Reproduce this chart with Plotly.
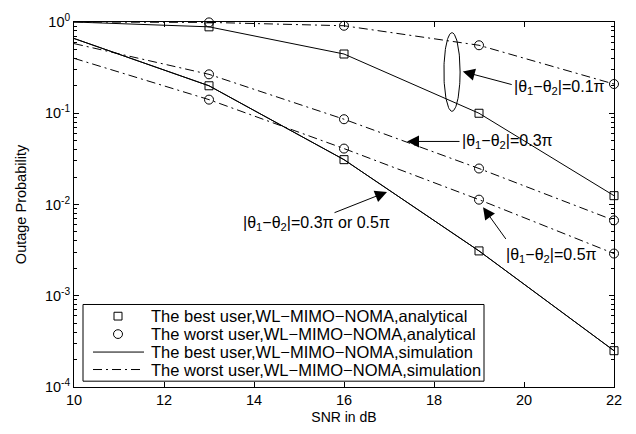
import numpy as np
import plotly.graph_objects as go

# SNR grid (dB) and outage probabilities
snr = [10, 13, 16, 19, 22]
best_01 = [1.0, 0.885, 0.446, 0.100, 0.0125]
best_0305 = [0.66, 0.200, 0.031, 0.0031, 0.00025]
worst_01 = [1.0, 0.99, 0.91, 0.556, 0.209]
worst_03 = [0.58, 0.267, 0.086, 0.0248, 0.0067]
worst_05 = [0.40, 0.141, 0.041, 0.0113, 0.0029]

legend_names = [
    "The best user,WL\u2212MIMO\u2212NOMA,analytical",
    "The worst user,WL\u2212MIMO\u2212NOMA,analytical",
    "The best user,WL\u2212MIMO\u2212NOMA,simulation",
    "The worst user,WL\u2212MIMO\u2212NOMA,simulation",
]

x_ticks = [10, 12, 14, 16, 18, 20, 22]
y_exps = [0, -1, -2, -3, -4]

FONT = "Liberation Sans, Arial, Helvetica, sans-serif"
DASHDOT = "9px,4px,2px,4px"

W, H = 636, 434
ML, MR, MT, MB = 74, 22, 12, 46
PW, PH = W - ML - MR, H - MT - MB


def px(xpix):
    return (xpix - ML) / PW


def py(ypix):
    return (H - MB - ypix) / PH


fig = go.Figure()

# simulation curves (lines)
for vals in [best_01, best_0305, best_0305]:
    fig.add_trace(go.Scatter(
        x=snr, y=vals, mode="lines", line=dict(color="black", width=1),
        name=legend_names[2], showlegend=False))
for vals in [worst_01, worst_03, worst_05]:
    fig.add_trace(go.Scatter(
        x=snr, y=vals, mode="lines", line=dict(color="black", width=1, dash=DASHDOT),
        name=legend_names[3], showlegend=False))

# analytical points (markers)
for vals in [best_01, best_0305]:
    fig.add_trace(go.Scatter(
        x=snr[1:], y=vals[1:], mode="markers", cliponaxis=False,
        marker=dict(symbol="square-open", size=8, color="black", line=dict(width=1)),
        name=legend_names[0], showlegend=False))
for vals in [worst_01, worst_03, worst_05]:
    fig.add_trace(go.Scatter(
        x=snr[1:], y=vals[1:], mode="markers", cliponaxis=False,
        marker=dict(symbol="circle-open", size=9, color="black", line=dict(width=1)),
        name=legend_names[1], showlegend=False))

# ellipse grouping the 0.1*pi curves
cx, cy, rx, ry = 18.4, -0.548, 0.18, 0.431
t = np.linspace(0, 2 * np.pi, 120)
fig.add_trace(go.Scatter(x=cx + rx * np.cos(t), y=10 ** (cy + ry * np.sin(t)), mode="lines",
                         line=dict(color="black", width=1), showlegend=False, hoverinfo="skip"))

theta = "|\u03b8<sub>1</sub>\u2212\u03b8<sub>2</sub>|"
labels = [
    # text, text x, text log-y, arrow tail (x, log y), arrow head (x, log y)
    (theta + "=0.1\u03c0", 19.76, -0.723, (19.76, -0.69), (18.64, -0.543)),
    (theta + "=0.3\u03c0", 18.60, -1.309, (18.60, -1.309), (17.40, -1.309)),
    (theta + "=0.3\u03c0 or 0.5\u03c0", 13.73, -2.213, (15.756, -2.096), (16.956, -1.862)),
    (theta + "=0.5\u03c0", 19.58, -2.564, (19.62, -2.394), (19.09, -2.03)),
]
for txt, tx, ty, tail, head in labels:
    fig.add_annotation(x=tx, y=ty, xref="x", yref="y", text=txt, showarrow=False,
                       xanchor="left", yanchor="middle", borderpad=0,
                       font=dict(family=FONT, size=16, color="black"))
    fig.add_annotation(x=head[0], y=head[1], ax=tail[0], ay=tail[1], xref="x", yref="y",
                       axref="x", ayref="y", text="", showarrow=True, arrowhead=2,
                       arrowsize=2.4, arrowwidth=1, arrowcolor="black", standoff=0)

# legend box drawn in plot-area coordinates (compact MATLAB-style rows)
shapes = [dict(type="rect", xref="paper", yref="paper", x0=px(83), x1=px(484),
               y0=py(382), y1=py(303), line=dict(color="black", width=1),
               fillcolor="white", layer="above")]
row_y = [315, 333.5, 352, 370]
sym_x = 118
# square sample
shapes.append(dict(type="rect", xref="paper", yref="paper",
                   x0=px(sym_x - 4), x1=px(sym_x + 4), y0=py(row_y[0] + 4), y1=py(row_y[0] - 4),
                   line=dict(color="black", width=1), layer="above"))
# circle sample
shapes.append(dict(type="circle", xref="paper", yref="paper",
                   x0=px(sym_x - 4.5), x1=px(sym_x + 4.5), y0=py(row_y[1] + 4.5),
                   y1=py(row_y[1] - 4.5), line=dict(color="black", width=1), layer="above"))
# line samples
shapes.append(dict(type="line", xref="paper", yref="paper", x0=px(93), x1=px(144),
                   y0=py(row_y[2]), y1=py(row_y[2]), line=dict(color="black", width=1),
                   layer="above"))
shapes.append(dict(type="line", xref="paper", yref="paper", x0=px(93), x1=px(144),
                   y0=py(row_y[3]), y1=py(row_y[3]),
                   line=dict(color="black", width=1, dash=DASHDOT), layer="above"))
for name, ry_ in zip(legend_names, row_y):
    fig.add_annotation(x=px(150), y=py(ry_), xref="paper", yref="paper", text=name,
                       showarrow=False, xanchor="left", yanchor="middle", borderpad=0,
                       font=dict(family=FONT, size=16.5, color="black"))

minor_vals = [m * 10.0 ** e for e in range(-4, 0) for m in range(2, 10)]

fig.update_layout(
    width=W, height=H,
    margin=dict(l=ML, r=MR, t=MT, b=MB),
    paper_bgcolor="white", plot_bgcolor="white",
    font=dict(family=FONT, size=14, color="black"),
    showlegend=False,
    shapes=shapes,
    xaxis=dict(range=[10, 22], tickvals=x_ticks, ticktext=[str(v) for v in x_ticks],
               ticks="inside", ticklen=5, tickcolor="black", showgrid=False, zeroline=False,
               showline=True, linecolor="black", linewidth=1, mirror="ticks",
               title=dict(text="SNR in dB", standoff=4, font=dict(size=14)),
               tickfont=dict(size=14.5)),
    yaxis=dict(type="log", range=[-4, 0], tickvals=[10.0 ** e for e in y_exps],
               ticktext=["10<sup>%d</sup>" % e for e in y_exps],
               ticks="inside", ticklen=5, tickcolor="black", showgrid=False, zeroline=False,
               showline=True, linecolor="black", linewidth=1, mirror="ticks",
               minor=dict(tickvals=minor_vals, ticks="inside", ticklen=3, tickcolor="black"),
               title=dict(text="Outage Probability", standoff=14, font=dict(size=14.5)),
               tickfont=dict(size=14.5)),
)

fig.write_html("out.html")
